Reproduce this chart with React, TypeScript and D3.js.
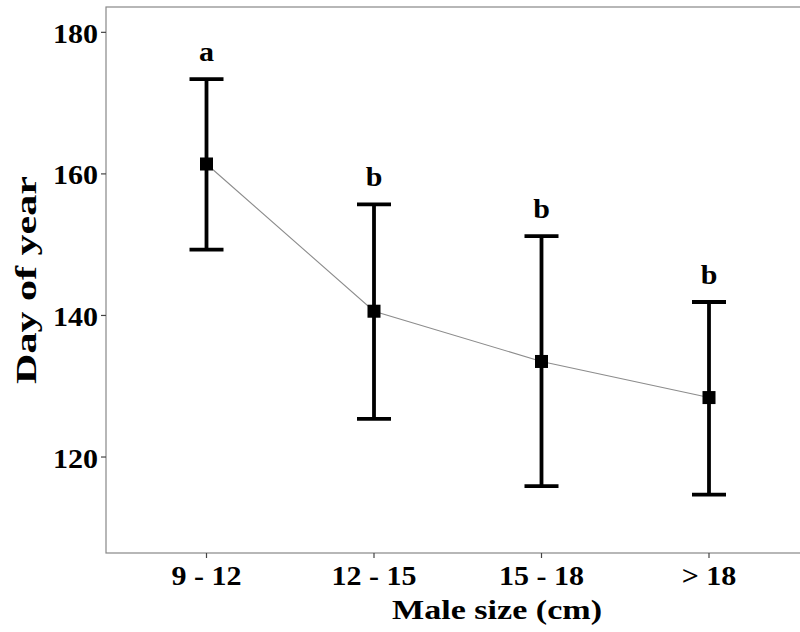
import React from "react";
import * as d3 from "d3";

// Male size classes and the spawning-day summary for each
const sizeClasses = ["9 - 12", "12 - 15", "15 - 18", "> 18"];
const meanDay = [161.4, 140.6, 133.5, 128.4];
const upperDay = [173.4, 155.7, 151.2, 141.9];
const lowerDay = [149.3, 125.4, 115.9, 114.7];
const groupLetters = ["a", "b", "b", "b"];
const yTicks = [120, 140, 160, 180];

const W = 800;
const H = 632;
const panel = { left: 106, top: 7, right: 809.5, bottom: 553 };
const serif = '"Liberation Serif", "Times New Roman", Tinos, "Nimbus Roman", Times, serif';
const txt: React.CSSProperties = { fontFamily: serif, fontWeight: 700 };

// Advance widths (em) of a Times-style bold face, used to set label lengths
// so that wider fallback serif faces keep the intended proportions.
const timesBold: Record<string, number> = {
  "0": 0.5, "1": 0.5, "2": 0.5, "3": 0.5, "4": 0.5, "5": 0.5, "6": 0.5, "7": 0.5, "8": 0.5, "9": 0.5,
  " ": 0.25, "-": 0.333, ">": 0.57, "(": 0.333, ")": 0.333,
  a: 0.5, b: 0.556, c: 0.444, D: 0.722, e: 0.444, f: 0.333, i: 0.278, l: 0.278,
  M: 0.944, m: 0.833, o: 0.5, r: 0.444, s: 0.389, y: 0.5, z: 0.444,
};
const emWidth = (s: string) => [...s].reduce((acc, ch) => acc + (timesBold[ch] ?? 0.5), 0);

export default function App() {
  const x = d3
    .scalePoint<string>()
    .domain(sizeClasses)
    .range([panel.left, panel.right])
    .padding(0.6);
  const y = d3
    .scaleLinear()
    .domain([106.44, 183.58])
    .range([panel.bottom, panel.top]);

  const rows = sizeClasses.map((c, i) => ({
    c,
    mean: meanDay[i],
    hi: upperDay[i],
    lo: lowerDay[i],
    letter: groupLetters[i],
  }));

  const line = d3
    .line<(typeof rows)[number]>()
    .x((d) => x(d.c) as number)
    .y((d) => y(d.mean));

  const capHalf = 17;
  const sq = 13;
  const tickEm = 30; // nominal label size for widths
  const tickPx = 28; // rendered glyph size

  return (
    <svg
      width={W}
      height={H}
      style={{ position: "absolute", left: 0, top: 0, background: "#fff" }}
    >
      <rect x={0} y={0} width={W} height={H} fill="#fff" />
      {/* panel border */}
      <rect
        x={panel.left}
        y={panel.top}
        width={panel.right - panel.left}
        height={panel.bottom - panel.top}
        fill="none"
        stroke="#888"
        strokeWidth={1.2}
      />

      {/* y axis ticks and labels */}
      {yTicks.map((t) => (
        <g key={t}>
          <line
            x1={panel.left - 5}
            x2={panel.left}
            y1={y(t)}
            y2={y(t)}
            stroke="#444"
            strokeWidth={1.2}
          />
          <text
            x={panel.left - 8}
            y={y(t) + 10.5}
            textAnchor="end"
            fontSize={tickPx}
            style={txt}
            textLength={emWidth(String(t)) * tickEm}
            lengthAdjust="spacingAndGlyphs"
            fill="#000"
          >
            {t}
          </text>
        </g>
      ))}

      {/* x axis ticks and labels */}
      {sizeClasses.map((c) => (
        <g key={c}>
          <line
            x1={x(c)}
            x2={x(c)}
            y1={panel.bottom}
            y2={panel.bottom + 5}
            stroke="#444"
            strokeWidth={1.2}
          />
          <text
            x={x(c)}
            y={585}
            textAnchor="middle"
            fontSize={tickPx}
            style={txt}
            textLength={emWidth(c) * tickEm}
            lengthAdjust="spacingAndGlyphs"
            fill="#000"
          >
            {c}
          </text>
        </g>
      ))}

      {/* axis titles */}
      <text
        x={497}
        y={619}
        textAnchor="middle"
        fontSize={27}
        style={txt}
        textLength={210}
        lengthAdjust="spacingAndGlyphs"
        fill="#000"
      >
        Male size (cm)
      </text>
      <text
        transform={`translate(36, ${(panel.top + panel.bottom) / 2}) rotate(-90)`}
        textAnchor="middle"
        fontSize={30}
        style={txt}
        textLength={208}
        lengthAdjust="spacingAndGlyphs"
        fill="#000"
      >
        Day of year
      </text>

      {/* connecting line between means */}
      <path d={line(rows) ?? ""} fill="none" stroke="#8c8c8c" strokeWidth={1.1} />

      {/* error bars, means and group letters */}
      {rows.map((d) => {
        const cx = x(d.c) as number;
        return (
          <g key={d.c}>
            <line x1={cx} x2={cx} y1={y(d.hi)} y2={y(d.lo)} stroke="#000" strokeWidth={3.8} />
            <line
              x1={cx - capHalf}
              x2={cx + capHalf}
              y1={y(d.hi)}
              y2={y(d.hi)}
              stroke="#000"
              strokeWidth={3.8}
            />
            <line
              x1={cx - capHalf}
              x2={cx + capHalf}
              y1={y(d.lo)}
              y2={y(d.lo)}
              stroke="#000"
              strokeWidth={3.8}
            />
            <rect x={cx - sq / 2} y={y(d.mean) - sq / 2} width={sq} height={sq} fill="#000" />
            <text
              x={cx}
              y={y(d.hi) - 18}
              textAnchor="middle"
              fontSize={27}
              style={txt}
              textLength={emWidth(d.letter) * tickEm}
              lengthAdjust="spacingAndGlyphs"
              fill="#000"
            >
              {d.letter}
            </text>
          </g>
        );
      })}
    </svg>
  );
}
